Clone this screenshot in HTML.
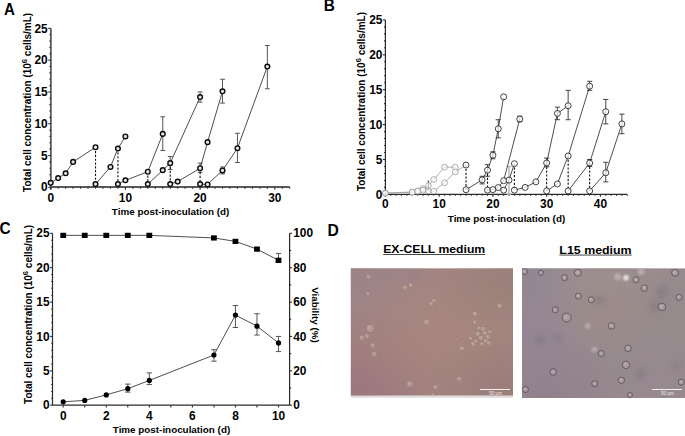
<!DOCTYPE html>
<html><head><meta charset="utf-8"><style>
html,body{margin:0;padding:0;background:#fff;}
svg{display:block;}
text{font-family:"Liberation Sans", sans-serif;fill:#000;}
.tk{font-size:11.9px;font-weight:bold;}
.al{font-size:10px;font-weight:bold;}
.sup{font-size:7.6px;}
.xl{font-size:9.85px;}
.pl{font-size:15.4px;font-weight:bold;}
.dt{font-size:11.6px;font-weight:bold;}
</style></head><body>
<svg width="685" height="436" viewBox="0 0 685 436">
<defs><filter id="bl" x="-50%" y="-50%" width="200%" height="200%"><feGaussianBlur stdDeviation="3"/></filter><filter id="bl0" x="-10%" y="-10%" width="120%" height="120%"><feGaussianBlur stdDeviation="0.35"/></filter><filter id="bl1" x="-50%" y="-50%" width="200%" height="200%"><feGaussianBlur stdDeviation="0.9"/></filter></defs>
<line x1="50.85" y1="28.4" x2="50.85" y2="189.5" stroke="#5a5a5a" stroke-width="1.8"/>
<line x1="48.3" y1="187.3" x2="50.7" y2="187.3" stroke="#2a2a2a" stroke-width="1.1"/>
<text x="47.7" y="191.4" class="tk" text-anchor="end">0</text>
<line x1="49.4" y1="180.94" x2="50.7" y2="180.94" stroke="#2a2a2a" stroke-width="1.1"/>
<line x1="49.4" y1="174.59" x2="50.7" y2="174.59" stroke="#2a2a2a" stroke-width="1.1"/>
<line x1="49.4" y1="168.23" x2="50.7" y2="168.23" stroke="#2a2a2a" stroke-width="1.1"/>
<line x1="49.4" y1="161.88" x2="50.7" y2="161.88" stroke="#2a2a2a" stroke-width="1.1"/>
<line x1="48.3" y1="155.52" x2="50.7" y2="155.52" stroke="#2a2a2a" stroke-width="1.1"/>
<text x="47.7" y="159.62" class="tk" text-anchor="end">5</text>
<line x1="49.4" y1="149.16" x2="50.7" y2="149.16" stroke="#2a2a2a" stroke-width="1.1"/>
<line x1="49.4" y1="142.81" x2="50.7" y2="142.81" stroke="#2a2a2a" stroke-width="1.1"/>
<line x1="49.4" y1="136.45" x2="50.7" y2="136.45" stroke="#2a2a2a" stroke-width="1.1"/>
<line x1="49.4" y1="130.1" x2="50.7" y2="130.1" stroke="#2a2a2a" stroke-width="1.1"/>
<line x1="48.3" y1="123.74" x2="50.7" y2="123.74" stroke="#2a2a2a" stroke-width="1.1"/>
<text x="47.7" y="127.84" class="tk" text-anchor="end">10</text>
<line x1="49.4" y1="117.38" x2="50.7" y2="117.38" stroke="#2a2a2a" stroke-width="1.1"/>
<line x1="49.4" y1="111.03" x2="50.7" y2="111.03" stroke="#2a2a2a" stroke-width="1.1"/>
<line x1="49.4" y1="104.67" x2="50.7" y2="104.67" stroke="#2a2a2a" stroke-width="1.1"/>
<line x1="49.4" y1="98.32" x2="50.7" y2="98.32" stroke="#2a2a2a" stroke-width="1.1"/>
<line x1="48.3" y1="91.96" x2="50.7" y2="91.96" stroke="#2a2a2a" stroke-width="1.1"/>
<text x="47.7" y="96.06" class="tk" text-anchor="end">15</text>
<line x1="49.4" y1="85.6" x2="50.7" y2="85.6" stroke="#2a2a2a" stroke-width="1.1"/>
<line x1="49.4" y1="79.25" x2="50.7" y2="79.25" stroke="#2a2a2a" stroke-width="1.1"/>
<line x1="49.4" y1="72.89" x2="50.7" y2="72.89" stroke="#2a2a2a" stroke-width="1.1"/>
<line x1="49.4" y1="66.54" x2="50.7" y2="66.54" stroke="#2a2a2a" stroke-width="1.1"/>
<line x1="48.3" y1="60.18" x2="50.7" y2="60.18" stroke="#2a2a2a" stroke-width="1.1"/>
<text x="47.7" y="64.28" class="tk" text-anchor="end">20</text>
<line x1="49.4" y1="53.82" x2="50.7" y2="53.82" stroke="#2a2a2a" stroke-width="1.1"/>
<line x1="49.4" y1="47.47" x2="50.7" y2="47.47" stroke="#2a2a2a" stroke-width="1.1"/>
<line x1="49.4" y1="41.11" x2="50.7" y2="41.11" stroke="#2a2a2a" stroke-width="1.1"/>
<line x1="49.4" y1="34.76" x2="50.7" y2="34.76" stroke="#2a2a2a" stroke-width="1.1"/>
<line x1="48.3" y1="28.4" x2="50.7" y2="28.4" stroke="#2a2a2a" stroke-width="1.1"/>
<text x="47.7" y="32.5" class="tk" text-anchor="end">25</text>
<line x1="50.7" y1="187" x2="289.74" y2="187" stroke="#5a5a5a" stroke-width="1.8"/>
<line x1="50.7" y1="187.3" x2="50.7" y2="189.7" stroke="#2a2a2a" stroke-width="1.1"/>
<text x="50.7" y="201.5" class="tk" text-anchor="middle">0</text>
<line x1="58.17" y1="187.3" x2="58.17" y2="188.7" stroke="#2a2a2a" stroke-width="1.1"/>
<line x1="65.64" y1="187.3" x2="65.64" y2="188.7" stroke="#2a2a2a" stroke-width="1.1"/>
<line x1="73.11" y1="187.3" x2="73.11" y2="188.7" stroke="#2a2a2a" stroke-width="1.1"/>
<line x1="80.58" y1="187.3" x2="80.58" y2="188.7" stroke="#2a2a2a" stroke-width="1.1"/>
<line x1="88.05" y1="187.3" x2="88.05" y2="188.7" stroke="#2a2a2a" stroke-width="1.1"/>
<line x1="95.52" y1="187.3" x2="95.52" y2="188.7" stroke="#2a2a2a" stroke-width="1.1"/>
<line x1="102.99" y1="187.3" x2="102.99" y2="188.7" stroke="#2a2a2a" stroke-width="1.1"/>
<line x1="110.46" y1="187.3" x2="110.46" y2="188.7" stroke="#2a2a2a" stroke-width="1.1"/>
<line x1="117.93" y1="187.3" x2="117.93" y2="188.7" stroke="#2a2a2a" stroke-width="1.1"/>
<line x1="125.4" y1="187.3" x2="125.4" y2="189.7" stroke="#2a2a2a" stroke-width="1.1"/>
<text x="125.4" y="201.5" class="tk" text-anchor="middle">10</text>
<line x1="132.87" y1="187.3" x2="132.87" y2="188.7" stroke="#2a2a2a" stroke-width="1.1"/>
<line x1="140.34" y1="187.3" x2="140.34" y2="188.7" stroke="#2a2a2a" stroke-width="1.1"/>
<line x1="147.81" y1="187.3" x2="147.81" y2="188.7" stroke="#2a2a2a" stroke-width="1.1"/>
<line x1="155.28" y1="187.3" x2="155.28" y2="188.7" stroke="#2a2a2a" stroke-width="1.1"/>
<line x1="162.75" y1="187.3" x2="162.75" y2="188.7" stroke="#2a2a2a" stroke-width="1.1"/>
<line x1="170.22" y1="187.3" x2="170.22" y2="188.7" stroke="#2a2a2a" stroke-width="1.1"/>
<line x1="177.69" y1="187.3" x2="177.69" y2="188.7" stroke="#2a2a2a" stroke-width="1.1"/>
<line x1="185.16" y1="187.3" x2="185.16" y2="188.7" stroke="#2a2a2a" stroke-width="1.1"/>
<line x1="192.63" y1="187.3" x2="192.63" y2="188.7" stroke="#2a2a2a" stroke-width="1.1"/>
<line x1="200.1" y1="187.3" x2="200.1" y2="189.7" stroke="#2a2a2a" stroke-width="1.1"/>
<text x="200.1" y="201.5" class="tk" text-anchor="middle">20</text>
<line x1="207.57" y1="187.3" x2="207.57" y2="188.7" stroke="#2a2a2a" stroke-width="1.1"/>
<line x1="215.04" y1="187.3" x2="215.04" y2="188.7" stroke="#2a2a2a" stroke-width="1.1"/>
<line x1="222.51" y1="187.3" x2="222.51" y2="188.7" stroke="#2a2a2a" stroke-width="1.1"/>
<line x1="229.98" y1="187.3" x2="229.98" y2="188.7" stroke="#2a2a2a" stroke-width="1.1"/>
<line x1="237.45" y1="187.3" x2="237.45" y2="188.7" stroke="#2a2a2a" stroke-width="1.1"/>
<line x1="244.92" y1="187.3" x2="244.92" y2="188.7" stroke="#2a2a2a" stroke-width="1.1"/>
<line x1="252.39" y1="187.3" x2="252.39" y2="188.7" stroke="#2a2a2a" stroke-width="1.1"/>
<line x1="259.86" y1="187.3" x2="259.86" y2="188.7" stroke="#2a2a2a" stroke-width="1.1"/>
<line x1="267.33" y1="187.3" x2="267.33" y2="188.7" stroke="#2a2a2a" stroke-width="1.1"/>
<line x1="274.8" y1="187.3" x2="274.8" y2="189.7" stroke="#2a2a2a" stroke-width="1.1"/>
<text x="274.8" y="201.5" class="tk" text-anchor="middle">30</text>
<line x1="282.27" y1="187.3" x2="282.27" y2="188.7" stroke="#2a2a2a" stroke-width="1.1"/>
<line x1="289.74" y1="187.3" x2="289.74" y2="188.7" stroke="#2a2a2a" stroke-width="1.1"/>
<path d="M162.75 150.44V116.75M160.35 150.44H165.15M160.35 116.75H165.15" stroke="#444" stroke-width="0.9" fill="none"/>
<path d="M170.22 169.5V156.47M167.82 169.5H172.62M167.82 156.47H172.62" stroke="#444" stroke-width="0.9" fill="none"/>
<path d="M200.1 102.13V91.96M197.7 102.13H202.5M197.7 91.96H202.5" stroke="#444" stroke-width="0.9" fill="none"/>
<path d="M200.1 172.36V163.15M197.7 172.36H202.5M197.7 163.15H202.5" stroke="#444" stroke-width="0.9" fill="none"/>
<path d="M222.51 103.08V79.25M220.11 103.08H224.91M220.11 79.25H224.91" stroke="#444" stroke-width="0.9" fill="none"/>
<path d="M222.51 173.95V166.96M220.11 173.95H224.91M220.11 166.96H224.91" stroke="#444" stroke-width="0.9" fill="none"/>
<path d="M237.45 162.51V133.27M235.05 162.51H239.85M235.05 133.27H239.85" stroke="#444" stroke-width="0.9" fill="none"/>
<path d="M267.33 88.78V45.56M264.93 88.78H269.73M264.93 45.56H269.73" stroke="#444" stroke-width="0.9" fill="none"/>
<line x1="95.52" y1="147.26" x2="95.52" y2="184.12" stroke="#111" stroke-width="1.1" stroke-dasharray="2.2 1.6"/>
<line x1="117.93" y1="148.53" x2="117.93" y2="184.12" stroke="#111" stroke-width="1.1" stroke-dasharray="2.2 1.6"/>
<line x1="147.81" y1="171.73" x2="147.81" y2="184.12" stroke="#111" stroke-width="1.1" stroke-dasharray="2.2 1.6"/>
<line x1="170.22" y1="163.15" x2="170.22" y2="184.12" stroke="#111" stroke-width="1.1" stroke-dasharray="2.2 1.6"/>
<line x1="200.1" y1="168.23" x2="200.1" y2="184.12" stroke="#111" stroke-width="1.1" stroke-dasharray="2.2 1.6"/>
<polyline points="50.7,182.85 58.17,178.08 65.64,173.32 73.11,161.88 95.52,147.26" fill="none" stroke="#222" stroke-width="0.8"/>
<polyline points="95.52,184.12 110.46,166.96 117.93,148.53 125.4,136.45" fill="none" stroke="#222" stroke-width="0.8"/>
<polyline points="117.93,184.12 125.4,180.31 147.81,171.73 162.75,133.91" fill="none" stroke="#222" stroke-width="0.8"/>
<polyline points="147.81,184.12 162.75,170.14 170.22,163.15 200.1,97.04" fill="none" stroke="#222" stroke-width="0.8"/>
<polyline points="170.22,184.12 177.69,181.58 200.1,168.23 207.57,142.17 222.51,91.32" fill="none" stroke="#222" stroke-width="0.8"/>
<polyline points="200.1,184.12 207.57,184.44 222.51,170.46 237.45,148.21 267.33,66.54" fill="none" stroke="#222" stroke-width="0.8"/>
<circle cx="50.7" cy="182.85" r="2.35" fill="#e4e4e4" stroke="#0a0a0a" stroke-width="1.4"/>
<circle cx="58.17" cy="178.08" r="2.35" fill="#e4e4e4" stroke="#0a0a0a" stroke-width="1.4"/>
<circle cx="65.64" cy="173.32" r="2.35" fill="#e4e4e4" stroke="#0a0a0a" stroke-width="1.4"/>
<circle cx="73.11" cy="161.88" r="2.35" fill="#e4e4e4" stroke="#0a0a0a" stroke-width="1.4"/>
<circle cx="95.52" cy="147.26" r="2.35" fill="#e4e4e4" stroke="#0a0a0a" stroke-width="1.4"/>
<circle cx="95.52" cy="184.12" r="2.35" fill="#e4e4e4" stroke="#0a0a0a" stroke-width="1.4"/>
<circle cx="110.46" cy="166.96" r="2.35" fill="#e4e4e4" stroke="#0a0a0a" stroke-width="1.4"/>
<circle cx="117.93" cy="148.53" r="2.35" fill="#e4e4e4" stroke="#0a0a0a" stroke-width="1.4"/>
<circle cx="125.4" cy="136.45" r="2.35" fill="#e4e4e4" stroke="#0a0a0a" stroke-width="1.4"/>
<circle cx="117.93" cy="184.12" r="2.35" fill="#e4e4e4" stroke="#0a0a0a" stroke-width="1.4"/>
<circle cx="125.4" cy="180.31" r="2.35" fill="#e4e4e4" stroke="#0a0a0a" stroke-width="1.4"/>
<circle cx="147.81" cy="171.73" r="2.35" fill="#e4e4e4" stroke="#0a0a0a" stroke-width="1.4"/>
<circle cx="162.75" cy="133.91" r="2.35" fill="#e4e4e4" stroke="#0a0a0a" stroke-width="1.4"/>
<circle cx="147.81" cy="184.12" r="2.35" fill="#e4e4e4" stroke="#0a0a0a" stroke-width="1.4"/>
<circle cx="162.75" cy="170.14" r="2.35" fill="#e4e4e4" stroke="#0a0a0a" stroke-width="1.4"/>
<circle cx="170.22" cy="163.15" r="2.35" fill="#e4e4e4" stroke="#0a0a0a" stroke-width="1.4"/>
<circle cx="200.1" cy="97.04" r="2.35" fill="#e4e4e4" stroke="#0a0a0a" stroke-width="1.4"/>
<circle cx="170.22" cy="184.12" r="2.35" fill="#e4e4e4" stroke="#0a0a0a" stroke-width="1.4"/>
<circle cx="177.69" cy="181.58" r="2.35" fill="#e4e4e4" stroke="#0a0a0a" stroke-width="1.4"/>
<circle cx="200.1" cy="168.23" r="2.35" fill="#e4e4e4" stroke="#0a0a0a" stroke-width="1.4"/>
<circle cx="207.57" cy="142.17" r="2.35" fill="#e4e4e4" stroke="#0a0a0a" stroke-width="1.4"/>
<circle cx="222.51" cy="91.32" r="2.35" fill="#e4e4e4" stroke="#0a0a0a" stroke-width="1.4"/>
<circle cx="200.1" cy="184.12" r="2.35" fill="#e4e4e4" stroke="#0a0a0a" stroke-width="1.4"/>
<circle cx="207.57" cy="184.44" r="2.35" fill="#e4e4e4" stroke="#0a0a0a" stroke-width="1.4"/>
<circle cx="222.51" cy="170.46" r="2.35" fill="#e4e4e4" stroke="#0a0a0a" stroke-width="1.4"/>
<circle cx="237.45" cy="148.21" r="2.35" fill="#e4e4e4" stroke="#0a0a0a" stroke-width="1.4"/>
<circle cx="267.33" cy="66.54" r="2.35" fill="#e4e4e4" stroke="#0a0a0a" stroke-width="1.4"/>
<text transform="translate(4,14.8) scale(0.98,1.1)" class="pl">A</text>
<text transform="translate(30.5,102.35) rotate(-90)" class="al" text-anchor="middle">Total cell concentration (10<tspan class="sup" dy="-3.9">6</tspan><tspan dy="3.9"> cells/mL)</tspan></text>
<text x="170.55" y="214.6" class="al xl" text-anchor="middle">Time post-inoculation (d)</text>
<line x1="385.4" y1="19.9" x2="385.4" y2="196.6" stroke="#2a2a2a" stroke-width="1.2"/>
<line x1="383" y1="194.4" x2="385.4" y2="194.4" stroke="#2a2a2a" stroke-width="1.1"/>
<text x="382.4" y="198.5" class="tk" text-anchor="end">0</text>
<line x1="384.1" y1="187.42" x2="385.4" y2="187.42" stroke="#2a2a2a" stroke-width="1.1"/>
<line x1="384.1" y1="180.44" x2="385.4" y2="180.44" stroke="#2a2a2a" stroke-width="1.1"/>
<line x1="384.1" y1="173.46" x2="385.4" y2="173.46" stroke="#2a2a2a" stroke-width="1.1"/>
<line x1="384.1" y1="166.48" x2="385.4" y2="166.48" stroke="#2a2a2a" stroke-width="1.1"/>
<line x1="383" y1="159.5" x2="385.4" y2="159.5" stroke="#2a2a2a" stroke-width="1.1"/>
<text x="382.4" y="163.6" class="tk" text-anchor="end">5</text>
<line x1="384.1" y1="152.52" x2="385.4" y2="152.52" stroke="#2a2a2a" stroke-width="1.1"/>
<line x1="384.1" y1="145.54" x2="385.4" y2="145.54" stroke="#2a2a2a" stroke-width="1.1"/>
<line x1="384.1" y1="138.56" x2="385.4" y2="138.56" stroke="#2a2a2a" stroke-width="1.1"/>
<line x1="384.1" y1="131.58" x2="385.4" y2="131.58" stroke="#2a2a2a" stroke-width="1.1"/>
<line x1="383" y1="124.6" x2="385.4" y2="124.6" stroke="#2a2a2a" stroke-width="1.1"/>
<text x="382.4" y="128.7" class="tk" text-anchor="end">10</text>
<line x1="384.1" y1="117.62" x2="385.4" y2="117.62" stroke="#2a2a2a" stroke-width="1.1"/>
<line x1="384.1" y1="110.64" x2="385.4" y2="110.64" stroke="#2a2a2a" stroke-width="1.1"/>
<line x1="384.1" y1="103.66" x2="385.4" y2="103.66" stroke="#2a2a2a" stroke-width="1.1"/>
<line x1="384.1" y1="96.68" x2="385.4" y2="96.68" stroke="#2a2a2a" stroke-width="1.1"/>
<line x1="383" y1="89.7" x2="385.4" y2="89.7" stroke="#2a2a2a" stroke-width="1.1"/>
<text x="382.4" y="93.8" class="tk" text-anchor="end">15</text>
<line x1="384.1" y1="82.72" x2="385.4" y2="82.72" stroke="#2a2a2a" stroke-width="1.1"/>
<line x1="384.1" y1="75.74" x2="385.4" y2="75.74" stroke="#2a2a2a" stroke-width="1.1"/>
<line x1="384.1" y1="68.76" x2="385.4" y2="68.76" stroke="#2a2a2a" stroke-width="1.1"/>
<line x1="384.1" y1="61.78" x2="385.4" y2="61.78" stroke="#2a2a2a" stroke-width="1.1"/>
<line x1="383" y1="54.8" x2="385.4" y2="54.8" stroke="#2a2a2a" stroke-width="1.1"/>
<text x="382.4" y="58.9" class="tk" text-anchor="end">20</text>
<line x1="384.1" y1="47.82" x2="385.4" y2="47.82" stroke="#2a2a2a" stroke-width="1.1"/>
<line x1="384.1" y1="40.84" x2="385.4" y2="40.84" stroke="#2a2a2a" stroke-width="1.1"/>
<line x1="384.1" y1="33.86" x2="385.4" y2="33.86" stroke="#2a2a2a" stroke-width="1.1"/>
<line x1="384.1" y1="26.88" x2="385.4" y2="26.88" stroke="#2a2a2a" stroke-width="1.1"/>
<line x1="383" y1="19.9" x2="385.4" y2="19.9" stroke="#2a2a2a" stroke-width="1.1"/>
<text x="382.4" y="24" class="tk" text-anchor="end">25</text>
<line x1="385.4" y1="194.4" x2="627.27" y2="194.4" stroke="#2a2a2a" stroke-width="1.2"/>
<line x1="385.4" y1="194.4" x2="385.4" y2="196.8" stroke="#2a2a2a" stroke-width="1.1"/>
<text x="385.4" y="207.9" class="tk" text-anchor="middle">0</text>
<line x1="390.77" y1="194.4" x2="390.77" y2="195.8" stroke="#2a2a2a" stroke-width="1.1"/>
<line x1="396.15" y1="194.4" x2="396.15" y2="195.8" stroke="#2a2a2a" stroke-width="1.1"/>
<line x1="401.52" y1="194.4" x2="401.52" y2="195.8" stroke="#2a2a2a" stroke-width="1.1"/>
<line x1="406.9" y1="194.4" x2="406.9" y2="195.8" stroke="#2a2a2a" stroke-width="1.1"/>
<line x1="412.27" y1="194.4" x2="412.27" y2="195.8" stroke="#2a2a2a" stroke-width="1.1"/>
<line x1="417.65" y1="194.4" x2="417.65" y2="195.8" stroke="#2a2a2a" stroke-width="1.1"/>
<line x1="423.02" y1="194.4" x2="423.02" y2="195.8" stroke="#2a2a2a" stroke-width="1.1"/>
<line x1="428.4" y1="194.4" x2="428.4" y2="195.8" stroke="#2a2a2a" stroke-width="1.1"/>
<line x1="433.77" y1="194.4" x2="433.77" y2="195.8" stroke="#2a2a2a" stroke-width="1.1"/>
<line x1="439.15" y1="194.4" x2="439.15" y2="196.8" stroke="#2a2a2a" stroke-width="1.1"/>
<text x="439.15" y="207.9" class="tk" text-anchor="middle">10</text>
<line x1="444.52" y1="194.4" x2="444.52" y2="195.8" stroke="#2a2a2a" stroke-width="1.1"/>
<line x1="449.9" y1="194.4" x2="449.9" y2="195.8" stroke="#2a2a2a" stroke-width="1.1"/>
<line x1="455.27" y1="194.4" x2="455.27" y2="195.8" stroke="#2a2a2a" stroke-width="1.1"/>
<line x1="460.65" y1="194.4" x2="460.65" y2="195.8" stroke="#2a2a2a" stroke-width="1.1"/>
<line x1="466.02" y1="194.4" x2="466.02" y2="195.8" stroke="#2a2a2a" stroke-width="1.1"/>
<line x1="471.4" y1="194.4" x2="471.4" y2="195.8" stroke="#2a2a2a" stroke-width="1.1"/>
<line x1="476.77" y1="194.4" x2="476.77" y2="195.8" stroke="#2a2a2a" stroke-width="1.1"/>
<line x1="482.15" y1="194.4" x2="482.15" y2="195.8" stroke="#2a2a2a" stroke-width="1.1"/>
<line x1="487.52" y1="194.4" x2="487.52" y2="195.8" stroke="#2a2a2a" stroke-width="1.1"/>
<line x1="492.9" y1="194.4" x2="492.9" y2="196.8" stroke="#2a2a2a" stroke-width="1.1"/>
<text x="492.9" y="207.9" class="tk" text-anchor="middle">20</text>
<line x1="498.27" y1="194.4" x2="498.27" y2="195.8" stroke="#2a2a2a" stroke-width="1.1"/>
<line x1="503.65" y1="194.4" x2="503.65" y2="195.8" stroke="#2a2a2a" stroke-width="1.1"/>
<line x1="509.02" y1="194.4" x2="509.02" y2="195.8" stroke="#2a2a2a" stroke-width="1.1"/>
<line x1="514.4" y1="194.4" x2="514.4" y2="195.8" stroke="#2a2a2a" stroke-width="1.1"/>
<line x1="519.77" y1="194.4" x2="519.77" y2="195.8" stroke="#2a2a2a" stroke-width="1.1"/>
<line x1="525.15" y1="194.4" x2="525.15" y2="195.8" stroke="#2a2a2a" stroke-width="1.1"/>
<line x1="530.52" y1="194.4" x2="530.52" y2="195.8" stroke="#2a2a2a" stroke-width="1.1"/>
<line x1="535.9" y1="194.4" x2="535.9" y2="195.8" stroke="#2a2a2a" stroke-width="1.1"/>
<line x1="541.27" y1="194.4" x2="541.27" y2="195.8" stroke="#2a2a2a" stroke-width="1.1"/>
<line x1="546.65" y1="194.4" x2="546.65" y2="196.8" stroke="#2a2a2a" stroke-width="1.1"/>
<text x="546.65" y="207.9" class="tk" text-anchor="middle">30</text>
<line x1="552.02" y1="194.4" x2="552.02" y2="195.8" stroke="#2a2a2a" stroke-width="1.1"/>
<line x1="557.4" y1="194.4" x2="557.4" y2="195.8" stroke="#2a2a2a" stroke-width="1.1"/>
<line x1="562.77" y1="194.4" x2="562.77" y2="195.8" stroke="#2a2a2a" stroke-width="1.1"/>
<line x1="568.15" y1="194.4" x2="568.15" y2="195.8" stroke="#2a2a2a" stroke-width="1.1"/>
<line x1="573.52" y1="194.4" x2="573.52" y2="195.8" stroke="#2a2a2a" stroke-width="1.1"/>
<line x1="578.9" y1="194.4" x2="578.9" y2="195.8" stroke="#2a2a2a" stroke-width="1.1"/>
<line x1="584.27" y1="194.4" x2="584.27" y2="195.8" stroke="#2a2a2a" stroke-width="1.1"/>
<line x1="589.65" y1="194.4" x2="589.65" y2="195.8" stroke="#2a2a2a" stroke-width="1.1"/>
<line x1="595.02" y1="194.4" x2="595.02" y2="195.8" stroke="#2a2a2a" stroke-width="1.1"/>
<line x1="600.4" y1="194.4" x2="600.4" y2="196.8" stroke="#2a2a2a" stroke-width="1.1"/>
<text x="600.4" y="207.9" class="tk" text-anchor="middle">40</text>
<line x1="605.77" y1="194.4" x2="605.77" y2="195.8" stroke="#2a2a2a" stroke-width="1.1"/>
<line x1="611.15" y1="194.4" x2="611.15" y2="195.8" stroke="#2a2a2a" stroke-width="1.1"/>
<line x1="616.52" y1="194.4" x2="616.52" y2="195.8" stroke="#2a2a2a" stroke-width="1.1"/>
<line x1="621.9" y1="194.4" x2="621.9" y2="195.8" stroke="#2a2a2a" stroke-width="1.1"/>
<line x1="627.27" y1="194.4" x2="627.27" y2="195.8" stroke="#2a2a2a" stroke-width="1.1"/>
<polyline points="385.4,193 412.27,192.03 417.65,190.84 423.02,188.75 428.4,185.54 433.77,179.53 444.52,167.18 455.27,167.18" fill="none" stroke="#9a9a9a" stroke-width="0.8"/>
<polyline points="385.4,193.35 412.27,192.31 417.65,191.26 423.02,190.21 428.4,190.91 433.77,191.12 444.52,182.81 455.27,171.92 466.02,165.08" fill="none" stroke="#9a9a9a" stroke-width="0.8"/>
<path d="M428.4 189.51V181.14M427.6 189.51H429.2M427.6 181.14H429.2" stroke="#333" stroke-width="0.9" fill="none"/>
<circle cx="385.4" cy="193" r="2.9" fill="#fff" fill-opacity="0.6" stroke="#9a9a9a" stroke-width="0.8"/>
<circle cx="412.27" cy="192.03" r="2.9" fill="#fff" fill-opacity="0.6" stroke="#9a9a9a" stroke-width="0.8"/>
<circle cx="417.65" cy="190.84" r="2.9" fill="#fff" fill-opacity="0.6" stroke="#9a9a9a" stroke-width="0.8"/>
<circle cx="423.02" cy="188.75" r="2.9" fill="#fff" fill-opacity="0.6" stroke="#9a9a9a" stroke-width="0.8"/>
<circle cx="428.4" cy="185.54" r="2.9" fill="#fff" fill-opacity="0.6" stroke="#9a9a9a" stroke-width="0.8"/>
<circle cx="433.77" cy="179.53" r="2.9" fill="#fff" fill-opacity="0.6" stroke="#9a9a9a" stroke-width="0.8"/>
<circle cx="444.52" cy="167.18" r="2.9" fill="#fff" fill-opacity="0.6" stroke="#9a9a9a" stroke-width="0.8"/>
<circle cx="455.27" cy="167.18" r="2.9" fill="#fff" fill-opacity="0.6" stroke="#9a9a9a" stroke-width="0.8"/>
<circle cx="385.4" cy="193.35" r="2.9" fill="#fff" fill-opacity="0.6" stroke="#9a9a9a" stroke-width="0.8"/>
<circle cx="412.27" cy="192.31" r="2.9" fill="#fff" fill-opacity="0.6" stroke="#9a9a9a" stroke-width="0.8"/>
<circle cx="417.65" cy="191.26" r="2.9" fill="#fff" fill-opacity="0.6" stroke="#9a9a9a" stroke-width="0.8"/>
<circle cx="423.02" cy="190.21" r="2.9" fill="#fff" fill-opacity="0.6" stroke="#9a9a9a" stroke-width="0.8"/>
<circle cx="428.4" cy="190.91" r="2.9" fill="#fff" fill-opacity="0.6" stroke="#9a9a9a" stroke-width="0.8"/>
<circle cx="433.77" cy="191.12" r="2.9" fill="#fff" fill-opacity="0.6" stroke="#9a9a9a" stroke-width="0.8"/>
<circle cx="444.52" cy="182.81" r="2.9" fill="#fff" fill-opacity="0.6" stroke="#9a9a9a" stroke-width="0.8"/>
<circle cx="455.27" cy="171.92" r="2.9" fill="#fff" fill-opacity="0.6" stroke="#9a9a9a" stroke-width="0.8"/>
<path d="M509.02 194.4V166.48M506.82 194.4H511.22M506.82 166.48H511.22" stroke="#aaa" stroke-width="1.2" fill="none"/>
<path d="M482.15 183.93V176.25M479.55 183.93H484.75M479.55 176.25H484.75" stroke="#333" stroke-width="0.9" fill="none"/>
<path d="M487.52 176.25V164.67M484.92 176.25H490.12M484.92 164.67H490.12" stroke="#333" stroke-width="0.9" fill="none"/>
<path d="M498.27 137.86V119.71M495.67 137.86H500.88M495.67 119.71H500.88" stroke="#333" stroke-width="0.9" fill="none"/>
<path d="M519.77 121.81V116.22M517.17 121.81H522.38M517.17 116.22H522.38" stroke="#333" stroke-width="0.9" fill="none"/>
<path d="M546.65 166.83V158.1M544.05 166.83H549.25M544.05 158.1H549.25" stroke="#333" stroke-width="0.9" fill="none"/>
<path d="M557.4 119.71V107.15M554.8 119.71H560M554.8 107.15H560" stroke="#333" stroke-width="0.9" fill="none"/>
<path d="M568.15 119.71V90.4M565.55 119.71H570.75M565.55 90.4H570.75" stroke="#333" stroke-width="0.9" fill="none"/>
<path d="M589.65 90.4V81.32M587.05 90.4H592.25M587.05 81.32H592.25" stroke="#333" stroke-width="0.9" fill="none"/>
<path d="M605.77 123.9V99.47M603.17 123.9H608.38M603.17 99.47H608.38" stroke="#333" stroke-width="0.9" fill="none"/>
<path d="M605.77 181.84V162.29M603.17 181.84H608.38M603.17 162.29H608.38" stroke="#333" stroke-width="0.9" fill="none"/>
<path d="M621.9 133.67V114.13M619.3 133.67H624.5M619.3 114.13H624.5" stroke="#333" stroke-width="0.9" fill="none"/>
<path d="M589.65 166.48V159.5M587.05 166.48H592.25M587.05 159.5H592.25" stroke="#333" stroke-width="0.9" fill="none"/>
<path d="M492.9 158.8V151.82M490.3 158.8H495.5M490.3 151.82H495.5" stroke="#333" stroke-width="0.9" fill="none"/>
<line x1="466.02" y1="165.08" x2="466.02" y2="189.72" stroke="#111" stroke-width="1.1" stroke-dasharray="2.2 1.6"/>
<line x1="487.52" y1="170.18" x2="487.52" y2="190.14" stroke="#111" stroke-width="1.1" stroke-dasharray="2.2 1.6"/>
<line x1="514.4" y1="163.69" x2="514.4" y2="190.14" stroke="#111" stroke-width="1.1" stroke-dasharray="2.2 1.6"/>
<line x1="546.65" y1="162.99" x2="546.65" y2="190.91" stroke="#111" stroke-width="1.1" stroke-dasharray="2.2 1.6"/>
<line x1="568.15" y1="156.01" x2="568.15" y2="190.91" stroke="#111" stroke-width="1.1" stroke-dasharray="2.2 1.6"/>
<line x1="589.65" y1="162.99" x2="589.65" y2="190.91" stroke="#111" stroke-width="1.1" stroke-dasharray="2.2 1.6"/>
<polyline points="466.02,189.72 482.15,179.88 487.52,170.18 492.9,155.17 498.27,128.79 503.65,96.82" fill="none" stroke="#222" stroke-width="0.8"/>
<polyline points="487.52,190.14 492.9,189.65 498.27,187.56 503.65,180.65 519.77,119.02" fill="none" stroke="#222" stroke-width="0.8"/>
<polyline points="503.65,190.14 509.02,180.09 514.4,163.69" fill="none" stroke="#222" stroke-width="0.8"/>
<polyline points="514.4,190.14 525.15,187.42 535.9,181.84 546.65,162.99 557.4,113.43 568.15,105.75" fill="none" stroke="#222" stroke-width="0.8"/>
<polyline points="546.65,190.91 557.4,183.93 568.15,156.01 589.65,86.21" fill="none" stroke="#222" stroke-width="0.8"/>
<polyline points="568.15,190.91 589.65,162.99 605.77,111.69" fill="none" stroke="#222" stroke-width="0.8"/>
<polyline points="589.65,190.91 605.77,172.76 621.9,123.9" fill="none" stroke="#222" stroke-width="0.8"/>
<circle cx="466.02" cy="189.72" r="3.0" fill="#fff" fill-opacity="0.75" stroke="#222" stroke-width="0.85"/>
<circle cx="482.15" cy="179.88" r="3.0" fill="#fff" fill-opacity="0.75" stroke="#222" stroke-width="0.85"/>
<circle cx="487.52" cy="170.18" r="3.0" fill="#fff" fill-opacity="0.75" stroke="#222" stroke-width="0.85"/>
<circle cx="492.9" cy="155.17" r="3.0" fill="#fff" fill-opacity="0.75" stroke="#222" stroke-width="0.85"/>
<circle cx="498.27" cy="128.79" r="3.0" fill="#fff" fill-opacity="0.75" stroke="#222" stroke-width="0.85"/>
<circle cx="503.65" cy="96.82" r="3.0" fill="#fff" fill-opacity="0.75" stroke="#222" stroke-width="0.85"/>
<circle cx="487.52" cy="190.14" r="3.0" fill="#fff" fill-opacity="0.75" stroke="#222" stroke-width="0.85"/>
<circle cx="492.9" cy="189.65" r="3.0" fill="#fff" fill-opacity="0.75" stroke="#222" stroke-width="0.85"/>
<circle cx="498.27" cy="187.56" r="3.0" fill="#fff" fill-opacity="0.75" stroke="#222" stroke-width="0.85"/>
<circle cx="503.65" cy="180.65" r="3.0" fill="#fff" fill-opacity="0.75" stroke="#222" stroke-width="0.85"/>
<circle cx="519.77" cy="119.02" r="3.0" fill="#fff" fill-opacity="0.75" stroke="#222" stroke-width="0.85"/>
<circle cx="503.65" cy="190.14" r="3.0" fill="#fff" fill-opacity="0.75" stroke="#222" stroke-width="0.85"/>
<circle cx="509.02" cy="180.09" r="3.0" fill="#fff" fill-opacity="0.75" stroke="#222" stroke-width="0.85"/>
<circle cx="514.4" cy="163.69" r="3.0" fill="#fff" fill-opacity="0.75" stroke="#222" stroke-width="0.85"/>
<circle cx="514.4" cy="190.14" r="3.0" fill="#fff" fill-opacity="0.75" stroke="#222" stroke-width="0.85"/>
<circle cx="525.15" cy="187.42" r="3.0" fill="#fff" fill-opacity="0.75" stroke="#222" stroke-width="0.85"/>
<circle cx="535.9" cy="181.84" r="3.0" fill="#fff" fill-opacity="0.75" stroke="#222" stroke-width="0.85"/>
<circle cx="546.65" cy="162.99" r="3.0" fill="#fff" fill-opacity="0.75" stroke="#222" stroke-width="0.85"/>
<circle cx="557.4" cy="113.43" r="3.0" fill="#fff" fill-opacity="0.75" stroke="#222" stroke-width="0.85"/>
<circle cx="568.15" cy="105.75" r="3.0" fill="#fff" fill-opacity="0.75" stroke="#222" stroke-width="0.85"/>
<circle cx="546.65" cy="190.91" r="3.0" fill="#fff" fill-opacity="0.75" stroke="#222" stroke-width="0.85"/>
<circle cx="557.4" cy="183.93" r="3.0" fill="#fff" fill-opacity="0.75" stroke="#222" stroke-width="0.85"/>
<circle cx="568.15" cy="156.01" r="3.0" fill="#fff" fill-opacity="0.75" stroke="#222" stroke-width="0.85"/>
<circle cx="589.65" cy="86.21" r="3.0" fill="#fff" fill-opacity="0.75" stroke="#222" stroke-width="0.85"/>
<circle cx="568.15" cy="190.91" r="3.0" fill="#fff" fill-opacity="0.75" stroke="#222" stroke-width="0.85"/>
<circle cx="589.65" cy="162.99" r="3.0" fill="#fff" fill-opacity="0.75" stroke="#222" stroke-width="0.85"/>
<circle cx="605.77" cy="111.69" r="3.0" fill="#fff" fill-opacity="0.75" stroke="#222" stroke-width="0.85"/>
<circle cx="589.65" cy="190.91" r="3.0" fill="#fff" fill-opacity="0.75" stroke="#222" stroke-width="0.85"/>
<circle cx="605.77" cy="172.76" r="3.0" fill="#fff" fill-opacity="0.75" stroke="#222" stroke-width="0.85"/>
<circle cx="621.9" cy="123.9" r="3.0" fill="#fff" fill-opacity="0.75" stroke="#222" stroke-width="0.85"/>
<circle cx="466.02" cy="165.08" r="3.0" fill="#fff" fill-opacity="0.75" stroke="#222" stroke-width="0.85"/>
<text transform="translate(323.8,11.1) scale(1,1.08)" class="pl">B</text>
<text transform="translate(365.3,101.5) rotate(-90)" class="al" text-anchor="middle">Total cell concentration (10<tspan class="sup" dy="-3.9">6</tspan><tspan dy="3.9"> cells/mL)</tspan></text>
<text x="506.5" y="221.6" class="al xl" text-anchor="middle">Time post-inoculation (d)</text>
<line x1="52.5" y1="233.3" x2="52.5" y2="405.2" stroke="#2a2a2a" stroke-width="1.2"/>
<line x1="289.6" y1="233.3" x2="289.6" y2="405.2" stroke="#2a2a2a" stroke-width="1.2"/>
<line x1="52.5" y1="405.2" x2="289.6" y2="405.2" stroke="#2a2a2a" stroke-width="1.2"/>
<line x1="50.1" y1="405.2" x2="52.5" y2="405.2" stroke="#2a2a2a" stroke-width="1.1"/>
<text x="49.5" y="409.3" class="tk" text-anchor="end">0</text>
<line x1="51.2" y1="398.32" x2="52.5" y2="398.32" stroke="#2a2a2a" stroke-width="1.1"/>
<line x1="51.2" y1="391.45" x2="52.5" y2="391.45" stroke="#2a2a2a" stroke-width="1.1"/>
<line x1="51.2" y1="384.57" x2="52.5" y2="384.57" stroke="#2a2a2a" stroke-width="1.1"/>
<line x1="51.2" y1="377.7" x2="52.5" y2="377.7" stroke="#2a2a2a" stroke-width="1.1"/>
<line x1="50.1" y1="370.82" x2="52.5" y2="370.82" stroke="#2a2a2a" stroke-width="1.1"/>
<text x="49.5" y="374.92" class="tk" text-anchor="end">5</text>
<line x1="51.2" y1="363.94" x2="52.5" y2="363.94" stroke="#2a2a2a" stroke-width="1.1"/>
<line x1="51.2" y1="357.07" x2="52.5" y2="357.07" stroke="#2a2a2a" stroke-width="1.1"/>
<line x1="51.2" y1="350.19" x2="52.5" y2="350.19" stroke="#2a2a2a" stroke-width="1.1"/>
<line x1="51.2" y1="343.32" x2="52.5" y2="343.32" stroke="#2a2a2a" stroke-width="1.1"/>
<line x1="50.1" y1="336.44" x2="52.5" y2="336.44" stroke="#2a2a2a" stroke-width="1.1"/>
<text x="49.5" y="340.54" class="tk" text-anchor="end">10</text>
<line x1="51.2" y1="329.56" x2="52.5" y2="329.56" stroke="#2a2a2a" stroke-width="1.1"/>
<line x1="51.2" y1="322.69" x2="52.5" y2="322.69" stroke="#2a2a2a" stroke-width="1.1"/>
<line x1="51.2" y1="315.81" x2="52.5" y2="315.81" stroke="#2a2a2a" stroke-width="1.1"/>
<line x1="51.2" y1="308.94" x2="52.5" y2="308.94" stroke="#2a2a2a" stroke-width="1.1"/>
<line x1="50.1" y1="302.06" x2="52.5" y2="302.06" stroke="#2a2a2a" stroke-width="1.1"/>
<text x="49.5" y="306.16" class="tk" text-anchor="end">15</text>
<line x1="51.2" y1="295.18" x2="52.5" y2="295.18" stroke="#2a2a2a" stroke-width="1.1"/>
<line x1="51.2" y1="288.31" x2="52.5" y2="288.31" stroke="#2a2a2a" stroke-width="1.1"/>
<line x1="51.2" y1="281.43" x2="52.5" y2="281.43" stroke="#2a2a2a" stroke-width="1.1"/>
<line x1="51.2" y1="274.56" x2="52.5" y2="274.56" stroke="#2a2a2a" stroke-width="1.1"/>
<line x1="50.1" y1="267.68" x2="52.5" y2="267.68" stroke="#2a2a2a" stroke-width="1.1"/>
<text x="49.5" y="271.78" class="tk" text-anchor="end">20</text>
<line x1="51.2" y1="260.8" x2="52.5" y2="260.8" stroke="#2a2a2a" stroke-width="1.1"/>
<line x1="51.2" y1="253.93" x2="52.5" y2="253.93" stroke="#2a2a2a" stroke-width="1.1"/>
<line x1="51.2" y1="247.05" x2="52.5" y2="247.05" stroke="#2a2a2a" stroke-width="1.1"/>
<line x1="51.2" y1="240.18" x2="52.5" y2="240.18" stroke="#2a2a2a" stroke-width="1.1"/>
<line x1="50.1" y1="233.3" x2="52.5" y2="233.3" stroke="#2a2a2a" stroke-width="1.1"/>
<text x="49.5" y="237.4" class="tk" text-anchor="end">25</text>
<line x1="289.6" y1="405.2" x2="292" y2="405.2" stroke="#2a2a2a" stroke-width="1.1"/>
<text x="293.2" y="409.3" class="tk">0</text>
<line x1="289.6" y1="388.01" x2="291.2" y2="388.01" stroke="#2a2a2a" stroke-width="1.1"/>
<line x1="289.6" y1="370.82" x2="292" y2="370.82" stroke="#2a2a2a" stroke-width="1.1"/>
<text x="293.2" y="374.92" class="tk">20</text>
<line x1="289.6" y1="353.63" x2="291.2" y2="353.63" stroke="#2a2a2a" stroke-width="1.1"/>
<line x1="289.6" y1="336.44" x2="292" y2="336.44" stroke="#2a2a2a" stroke-width="1.1"/>
<text x="293.2" y="340.54" class="tk">40</text>
<line x1="289.6" y1="319.25" x2="291.2" y2="319.25" stroke="#2a2a2a" stroke-width="1.1"/>
<line x1="289.6" y1="302.06" x2="292" y2="302.06" stroke="#2a2a2a" stroke-width="1.1"/>
<text x="293.2" y="306.16" class="tk">60</text>
<line x1="289.6" y1="284.87" x2="291.2" y2="284.87" stroke="#2a2a2a" stroke-width="1.1"/>
<line x1="289.6" y1="267.68" x2="292" y2="267.68" stroke="#2a2a2a" stroke-width="1.1"/>
<text x="293.2" y="271.78" class="tk">80</text>
<line x1="289.6" y1="250.49" x2="291.2" y2="250.49" stroke="#2a2a2a" stroke-width="1.1"/>
<line x1="289.6" y1="233.3" x2="292" y2="233.3" stroke="#2a2a2a" stroke-width="1.1"/>
<text x="293.2" y="237.4" class="tk">100</text>
<line x1="63.2" y1="405.2" x2="63.2" y2="407.4" stroke="#2a2a2a" stroke-width="1.1"/>
<text x="63.2" y="419.7" class="tk" text-anchor="middle">0</text>
<line x1="84.73" y1="405.2" x2="84.73" y2="407.4" stroke="#2a2a2a" stroke-width="1.1"/>
<line x1="106.26" y1="405.2" x2="106.26" y2="407.4" stroke="#2a2a2a" stroke-width="1.1"/>
<text x="106.26" y="419.7" class="tk" text-anchor="middle">2</text>
<line x1="127.79" y1="405.2" x2="127.79" y2="407.4" stroke="#2a2a2a" stroke-width="1.1"/>
<line x1="149.32" y1="405.2" x2="149.32" y2="407.4" stroke="#2a2a2a" stroke-width="1.1"/>
<text x="149.32" y="419.7" class="tk" text-anchor="middle">4</text>
<line x1="170.85" y1="405.2" x2="170.85" y2="407.4" stroke="#2a2a2a" stroke-width="1.1"/>
<line x1="192.38" y1="405.2" x2="192.38" y2="407.4" stroke="#2a2a2a" stroke-width="1.1"/>
<text x="192.38" y="419.7" class="tk" text-anchor="middle">6</text>
<line x1="213.91" y1="405.2" x2="213.91" y2="407.4" stroke="#2a2a2a" stroke-width="1.1"/>
<line x1="235.44" y1="405.2" x2="235.44" y2="407.4" stroke="#2a2a2a" stroke-width="1.1"/>
<text x="235.44" y="419.7" class="tk" text-anchor="middle">8</text>
<line x1="256.97" y1="405.2" x2="256.97" y2="407.4" stroke="#2a2a2a" stroke-width="1.1"/>
<line x1="278.5" y1="405.2" x2="278.5" y2="407.4" stroke="#2a2a2a" stroke-width="1.1"/>
<text x="278.5" y="419.7" class="tk" text-anchor="middle">10</text>
<path d="M127.79 392.14V384.09M125.09 392.14H130.49M125.09 384.09H130.49" stroke="#444" stroke-width="0.9" fill="none"/>
<path d="M149.32 384.57V372.88M146.62 384.57H152.02M146.62 372.88H152.02" stroke="#444" stroke-width="0.9" fill="none"/>
<path d="M213.91 361.19V349.71M211.21 361.19H216.61M211.21 349.71H216.61" stroke="#444" stroke-width="0.9" fill="none"/>
<path d="M235.44 327.5V305.5M232.74 327.5H238.14M232.74 305.5H238.14" stroke="#444" stroke-width="0.9" fill="none"/>
<path d="M256.97 335.06V313.75M254.27 335.06H259.67M254.27 313.75H259.67" stroke="#444" stroke-width="0.9" fill="none"/>
<path d="M278.5 351.57V336.44M275.8 351.57H281.2M275.8 336.44H281.2" stroke="#444" stroke-width="0.9" fill="none"/>
<path d="M278.5 262.52V253.41M275.8 262.52H281.2M275.8 253.41H281.2" stroke="#444" stroke-width="0.9" fill="none"/>
<polyline points="63.2,401.83 84.73,400.39 106.26,394.89 127.79,388.7 149.32,380.45 213.91,355.01 235.44,315.12 256.97,326.13 278.5,342.97" fill="none" stroke="#222" stroke-width="0.8"/>
<polyline points="63.2,235.36 84.73,235.36 106.26,235.36 127.79,235.36 149.32,235.36 213.91,237.94 235.44,241.38 256.97,249.11 278.5,260.29" fill="none" stroke="#222" stroke-width="0.8"/>
<circle cx="63.2" cy="401.83" r="2.6" fill="#000"/>
<circle cx="84.73" cy="400.39" r="2.6" fill="#000"/>
<circle cx="106.26" cy="394.89" r="2.6" fill="#000"/>
<circle cx="127.79" cy="388.7" r="2.6" fill="#000"/>
<circle cx="149.32" cy="380.45" r="2.6" fill="#000"/>
<circle cx="213.91" cy="355.01" r="2.6" fill="#000"/>
<circle cx="235.44" cy="315.12" r="2.6" fill="#000"/>
<circle cx="256.97" cy="326.13" r="2.6" fill="#000"/>
<circle cx="278.5" cy="342.97" r="2.6" fill="#000"/>
<rect x="60.3" y="232.76" width="5.8" height="5.2" fill="#000"/>
<rect x="81.83" y="232.76" width="5.8" height="5.2" fill="#000"/>
<rect x="103.36" y="232.76" width="5.8" height="5.2" fill="#000"/>
<rect x="124.89" y="232.76" width="5.8" height="5.2" fill="#000"/>
<rect x="146.42" y="232.76" width="5.8" height="5.2" fill="#000"/>
<rect x="211.01" y="235.34" width="5.8" height="5.2" fill="#000"/>
<rect x="232.54" y="238.78" width="5.8" height="5.2" fill="#000"/>
<rect x="254.07" y="246.51" width="5.8" height="5.2" fill="#000"/>
<rect x="275.6" y="257.69" width="5.8" height="5.2" fill="#000"/>
<text transform="translate(-0.4,233.8) scale(1,1.1)" class="pl">C</text>
<text transform="translate(32.1,314.35) rotate(-90)" class="al" text-anchor="middle">Total cell concentration (10<tspan class="sup" dy="-3.9">6</tspan><tspan dy="3.9"> cells/mL)</tspan></text>
<text transform="translate(312.2,314.95) rotate(90)" class="al xl" text-anchor="middle">Viability (%)</text>
<text x="171.5" y="432.7" class="al xl" text-anchor="middle">Time post-inoculation (d)</text>
<text transform="translate(327.6,235.6) scale(1.02,1.1)" class="pl">D</text>
<text x="434.2" y="253.4" class="dt" text-anchor="middle" textLength="102" lengthAdjust="spacingAndGlyphs">EX-CELL medium</text>
<rect x="383.2" y="254.1" width="102" height="0.9" fill="#333"/>
<text x="595.5" y="253.8" class="dt" text-anchor="middle" textLength="72.3" lengthAdjust="spacingAndGlyphs">L15 medium</text>
<rect x="559.4" y="254.6" width="72.3" height="0.9" fill="#333"/>
<defs><clipPath id="c1"><rect x="350.6" y="268.2" width="162.4" height="127.6"/></clipPath><clipPath id="c2"><rect x="522" y="268.2" width="163" height="129.8"/></clipPath>
<radialGradient id="a1" cx="0.05" cy="0.05" r="0.6"><stop offset="0" stop-color="#9d8489" stop-opacity="0.9"/><stop offset="1" stop-color="#9d8489" stop-opacity="0"/></radialGradient>
<radialGradient id="a2" cx="0.05" cy="0.95" r="0.65"><stop offset="0" stop-color="#9c757d" stop-opacity="0.9"/><stop offset="1" stop-color="#9c757d" stop-opacity="0"/></radialGradient>
<radialGradient id="a3" cx="0.55" cy="0.55" r="0.55"><stop offset="0" stop-color="#a8867e" stop-opacity="0.9"/><stop offset="1" stop-color="#a8867e" stop-opacity="0"/></radialGradient>
<radialGradient id="a4" cx="0.95" cy="0.1" r="0.45"><stop offset="0" stop-color="#998079" stop-opacity="0.8"/><stop offset="1" stop-color="#998079" stop-opacity="0"/></radialGradient>
<radialGradient id="a5" cx="0.92" cy="0.92" r="0.45"><stop offset="0" stop-color="#997c78" stop-opacity="0.85"/><stop offset="1" stop-color="#997c78" stop-opacity="0"/></radialGradient>
<radialGradient id="b1" cx="0.5" cy="0.1" r="0.45"><stop offset="0" stop-color="#9e8f8f" stop-opacity="0.9"/><stop offset="1" stop-color="#9e8f8f" stop-opacity="0"/></radialGradient>
<radialGradient id="b2" cx="0.0" cy="0.5" r="0.5"><stop offset="0" stop-color="#958596" stop-opacity="0.9"/><stop offset="1" stop-color="#958596" stop-opacity="0"/></radialGradient>
<radialGradient id="b3" cx="0.15" cy="1.0" r="0.5"><stop offset="0" stop-color="#8f7e8e" stop-opacity="0.8"/><stop offset="1" stop-color="#8f7e8e" stop-opacity="0"/></radialGradient>
<radialGradient id="b4" cx="0.0" cy="0.0" r="0.35"><stop offset="0" stop-color="#8f8595" stop-opacity="0.8"/><stop offset="1" stop-color="#8f8595" stop-opacity="0"/></radialGradient>
<radialGradient id="b5" cx="0.8" cy="0.85" r="0.35"><stop offset="0" stop-color="#978991" stop-opacity="0.6"/><stop offset="1" stop-color="#978991" stop-opacity="0"/></radialGradient>
<radialGradient id="b6" cx="0.5" cy="0.35" r="0.3"><stop offset="0" stop-color="#9c8c87" stop-opacity="0.8"/><stop offset="1" stop-color="#9c8c87" stop-opacity="0"/></radialGradient>
</defs>
<g clip-path="url(#c1)">
<rect x="350.6" y="268.2" width="162.4" height="127.6" fill="#a38581"/>
<rect x="350.6" y="268.2" width="162.4" height="127.6" fill="url(#a1)"/>
<rect x="350.6" y="268.2" width="162.4" height="127.6" fill="url(#a2)"/>
<rect x="350.6" y="268.2" width="162.4" height="127.6" fill="url(#a3)"/>
<rect x="350.6" y="268.2" width="162.4" height="127.6" fill="url(#a4)"/>
<rect x="350.6" y="268.2" width="162.4" height="127.6" fill="url(#a5)"/>
<rect x="408" y="268.2" width="10" height="14" fill="#8f7b80" fill-opacity="0.35" filter="url(#bl)"/>
<g filter="url(#bl0)">
<circle cx="368.7" cy="276.8" r="3.4" fill="#c4ab9f" fill-opacity="0.3"/>
<circle cx="368.7" cy="276.8" r="2.8" fill="#b89e92" fill-opacity="0.45" stroke="#6f5a58" stroke-opacity="0.5" stroke-width="0.7"/>
<circle cx="368.0" cy="276.24" r="1.26" fill="#cab3a6" fill-opacity="0.45"/>
<circle cx="368.1" cy="293.8" r="3.0" fill="#c4ab9f" fill-opacity="0.3"/>
<circle cx="368.1" cy="293.8" r="2.4" fill="#b89e92" fill-opacity="0.45" stroke="#6f5a58" stroke-opacity="0.5" stroke-width="0.7"/>
<circle cx="367.5" cy="293.32" r="1.08" fill="#cab3a6" fill-opacity="0.45"/>
<circle cx="405.2" cy="287.6" r="3.4" fill="#c4ab9f" fill-opacity="0.3"/>
<circle cx="405.2" cy="287.6" r="2.8" fill="#b89e92" fill-opacity="0.45" stroke="#6f5a58" stroke-opacity="0.5" stroke-width="0.7"/>
<circle cx="404.5" cy="287.04" r="1.26" fill="#cab3a6" fill-opacity="0.45"/>
<circle cx="410.8" cy="285.1" r="3.4" fill="#c4ab9f" fill-opacity="0.3"/>
<circle cx="410.8" cy="285.1" r="2.8" fill="#b89e92" fill-opacity="0.45" stroke="#6f5a58" stroke-opacity="0.5" stroke-width="0.7"/>
<circle cx="410.1" cy="284.54" r="1.26" fill="#cab3a6" fill-opacity="0.45"/>
<circle cx="431.5" cy="303.7" r="3.5" fill="#c4ab9f" fill-opacity="0.3"/>
<circle cx="431.5" cy="303.7" r="2.9" fill="#b89e92" fill-opacity="0.45" stroke="#6f5a58" stroke-opacity="0.5" stroke-width="0.7"/>
<circle cx="430.775" cy="303.12" r="1.305" fill="#cab3a6" fill-opacity="0.45"/>
<circle cx="434" cy="300.6" r="3.2" fill="#c4ab9f" fill-opacity="0.3"/>
<circle cx="434" cy="300.6" r="2.6" fill="#b89e92" fill-opacity="0.45" stroke="#6f5a58" stroke-opacity="0.5" stroke-width="0.7"/>
<circle cx="433.35" cy="300.08000000000004" r="1.1700000000000002" fill="#cab3a6" fill-opacity="0.45"/>
<circle cx="426.9" cy="322.2" r="3.9" fill="#c4ab9f" fill-opacity="0.3"/>
<circle cx="426.9" cy="322.2" r="3.3" fill="#b89e92" fill-opacity="0.45" stroke="#6f5a58" stroke-opacity="0.5" stroke-width="0.7"/>
<circle cx="426.075" cy="321.53999999999996" r="1.4849999999999999" fill="#cab3a6" fill-opacity="0.45"/>
<circle cx="499.6" cy="305.8" r="3.6" fill="#c4ab9f" fill-opacity="0.3"/>
<circle cx="499.6" cy="305.8" r="3" fill="#b89e92" fill-opacity="0.45" stroke="#6f5a58" stroke-opacity="0.5" stroke-width="0.7"/>
<circle cx="498.85" cy="305.2" r="1.35" fill="#cab3a6" fill-opacity="0.45"/>
<circle cx="474.9" cy="313.9" r="3.6" fill="#c4ab9f" fill-opacity="0.3"/>
<circle cx="474.9" cy="313.9" r="3" fill="#b89e92" fill-opacity="0.45" stroke="#6f5a58" stroke-opacity="0.5" stroke-width="0.7"/>
<circle cx="474.15" cy="313.29999999999995" r="1.35" fill="#cab3a6" fill-opacity="0.45"/>
<circle cx="474.9" cy="322.2" r="3.1" fill="#c4ab9f" fill-opacity="0.3"/>
<circle cx="474.9" cy="322.2" r="2.5" fill="#b89e92" fill-opacity="0.45" stroke="#6f5a58" stroke-opacity="0.5" stroke-width="0.7"/>
<circle cx="474.275" cy="321.7" r="1.125" fill="#cab3a6" fill-opacity="0.45"/>
<circle cx="370.3" cy="328.4" r="4.8999999999999995" fill="#c4ab9f" fill-opacity="0.3"/>
<circle cx="370.3" cy="328.4" r="4.3" fill="#b89e92" fill-opacity="0.45" stroke="#6f5a58" stroke-opacity="0.5" stroke-width="0.7"/>
<circle cx="369.225" cy="327.53999999999996" r="1.935" fill="#cab3a6" fill-opacity="0.45"/>
<circle cx="361.9" cy="337.7" r="3.6" fill="#c4ab9f" fill-opacity="0.3"/>
<circle cx="361.9" cy="337.7" r="3" fill="#b89e92" fill-opacity="0.45" stroke="#6f5a58" stroke-opacity="0.5" stroke-width="0.7"/>
<circle cx="361.15" cy="337.09999999999997" r="1.35" fill="#cab3a6" fill-opacity="0.45"/>
<circle cx="367.2" cy="336.2" r="3.4" fill="#c4ab9f" fill-opacity="0.3"/>
<circle cx="367.2" cy="336.2" r="2.8" fill="#b89e92" fill-opacity="0.45" stroke="#6f5a58" stroke-opacity="0.5" stroke-width="0.7"/>
<circle cx="366.5" cy="335.64" r="1.26" fill="#cab3a6" fill-opacity="0.45"/>
<circle cx="372.8" cy="345.4" r="3.4" fill="#c4ab9f" fill-opacity="0.3"/>
<circle cx="372.8" cy="345.4" r="2.8" fill="#b89e92" fill-opacity="0.45" stroke="#6f5a58" stroke-opacity="0.5" stroke-width="0.7"/>
<circle cx="372.1" cy="344.84" r="1.26" fill="#cab3a6" fill-opacity="0.45"/>
<circle cx="374.3" cy="354.1" r="3.6" fill="#c4ab9f" fill-opacity="0.3"/>
<circle cx="374.3" cy="354.1" r="3" fill="#b89e92" fill-opacity="0.45" stroke="#6f5a58" stroke-opacity="0.5" stroke-width="0.7"/>
<circle cx="373.55" cy="353.5" r="1.35" fill="#cab3a6" fill-opacity="0.45"/>
<circle cx="456.3" cy="339.3" r="2.4" fill="#c4ab9f" fill-opacity="0.3"/>
<circle cx="456.3" cy="339.3" r="1.8" fill="#b89e92" fill-opacity="0.45" stroke="#6f5a58" stroke-opacity="0.5" stroke-width="0.7"/>
<circle cx="455.85" cy="338.94" r="0.81" fill="#cab3a6" fill-opacity="0.45"/>
<circle cx="461.9" cy="348.5" r="3.4" fill="#c4ab9f" fill-opacity="0.3"/>
<circle cx="461.9" cy="348.5" r="2.8" fill="#b89e92" fill-opacity="0.45" stroke="#6f5a58" stroke-opacity="0.5" stroke-width="0.7"/>
<circle cx="461.2" cy="347.94" r="1.26" fill="#cab3a6" fill-opacity="0.45"/>
<circle cx="473.3" cy="343.9" r="3.4" fill="#c4ab9f" fill-opacity="0.3"/>
<circle cx="473.3" cy="343.9" r="2.8" fill="#b89e92" fill-opacity="0.45" stroke="#6f5a58" stroke-opacity="0.5" stroke-width="0.7"/>
<circle cx="472.6" cy="343.34" r="1.26" fill="#cab3a6" fill-opacity="0.45"/>
<circle cx="470.5" cy="338.5" r="3.1" fill="#c4ab9f" fill-opacity="0.3"/>
<circle cx="470.5" cy="338.5" r="2.5" fill="#b89e92" fill-opacity="0.45" stroke="#6f5a58" stroke-opacity="0.5" stroke-width="0.7"/>
<circle cx="469.875" cy="338.0" r="1.125" fill="#cab3a6" fill-opacity="0.45"/>
<circle cx="409.9" cy="384.1" r="4.1" fill="#c4ab9f" fill-opacity="0.3"/>
<circle cx="409.9" cy="384.1" r="3.5" fill="#b89e92" fill-opacity="0.45" stroke="#6f5a58" stroke-opacity="0.5" stroke-width="0.7"/>
<circle cx="409.025" cy="383.40000000000003" r="1.575" fill="#cab3a6" fill-opacity="0.45"/>
<circle cx="435.6" cy="387.2" r="3.4" fill="#c4ab9f" fill-opacity="0.3"/>
<circle cx="435.6" cy="387.2" r="2.8" fill="#b89e92" fill-opacity="0.45" stroke="#6f5a58" stroke-opacity="0.5" stroke-width="0.7"/>
<circle cx="434.90000000000003" cy="386.64" r="1.26" fill="#cab3a6" fill-opacity="0.45"/>
<circle cx="459.4" cy="378.9" r="3.6" fill="#c4ab9f" fill-opacity="0.3"/>
<circle cx="459.4" cy="378.9" r="3" fill="#b89e92" fill-opacity="0.45" stroke="#6f5a58" stroke-opacity="0.5" stroke-width="0.7"/>
<circle cx="458.65" cy="378.29999999999995" r="1.35" fill="#cab3a6" fill-opacity="0.45"/>
<circle cx="433" cy="395" r="3.1" fill="#c4ab9f" fill-opacity="0.3"/>
<circle cx="433" cy="395" r="2.5" fill="#b89e92" fill-opacity="0.45" stroke="#6f5a58" stroke-opacity="0.5" stroke-width="0.7"/>
<circle cx="432.375" cy="394.5" r="1.125" fill="#cab3a6" fill-opacity="0.45"/>
<circle cx="478" cy="334" r="3.6" fill="#c4ab9f" fill-opacity="0.3"/>
<circle cx="478" cy="334" r="3" fill="#b89e92" fill-opacity="0.45" stroke="#6f5a58" stroke-opacity="0.5" stroke-width="0.7"/>
<circle cx="477.25" cy="333.4" r="1.35" fill="#cab3a6" fill-opacity="0.45"/>
<circle cx="481" cy="338" r="3.6" fill="#c4ab9f" fill-opacity="0.3"/>
<circle cx="481" cy="338" r="3" fill="#b89e92" fill-opacity="0.45" stroke="#6f5a58" stroke-opacity="0.5" stroke-width="0.7"/>
<circle cx="480.25" cy="337.4" r="1.35" fill="#cab3a6" fill-opacity="0.45"/>
<circle cx="485" cy="333" r="3.6" fill="#c4ab9f" fill-opacity="0.3"/>
<circle cx="485" cy="333" r="3" fill="#b89e92" fill-opacity="0.45" stroke="#6f5a58" stroke-opacity="0.5" stroke-width="0.7"/>
<circle cx="484.25" cy="332.4" r="1.35" fill="#cab3a6" fill-opacity="0.45"/>
<circle cx="488" cy="337" r="3.6" fill="#c4ab9f" fill-opacity="0.3"/>
<circle cx="488" cy="337" r="3" fill="#b89e92" fill-opacity="0.45" stroke="#6f5a58" stroke-opacity="0.5" stroke-width="0.7"/>
<circle cx="487.25" cy="336.4" r="1.35" fill="#cab3a6" fill-opacity="0.45"/>
<circle cx="483" cy="329" r="3.6" fill="#c4ab9f" fill-opacity="0.3"/>
<circle cx="483" cy="329" r="3" fill="#b89e92" fill-opacity="0.45" stroke="#6f5a58" stroke-opacity="0.5" stroke-width="0.7"/>
<circle cx="482.25" cy="328.4" r="1.35" fill="#cab3a6" fill-opacity="0.45"/>
<circle cx="479" cy="328" r="3.1" fill="#c4ab9f" fill-opacity="0.3"/>
<circle cx="479" cy="328" r="2.5" fill="#b89e92" fill-opacity="0.45" stroke="#6f5a58" stroke-opacity="0.5" stroke-width="0.7"/>
<circle cx="478.375" cy="327.5" r="1.125" fill="#cab3a6" fill-opacity="0.45"/>
<circle cx="486" cy="341" r="3.6" fill="#c4ab9f" fill-opacity="0.3"/>
<circle cx="486" cy="341" r="3" fill="#b89e92" fill-opacity="0.45" stroke="#6f5a58" stroke-opacity="0.5" stroke-width="0.7"/>
<circle cx="485.25" cy="340.4" r="1.35" fill="#cab3a6" fill-opacity="0.45"/>
<circle cx="490" cy="332" r="3.1" fill="#c4ab9f" fill-opacity="0.3"/>
<circle cx="490" cy="332" r="2.5" fill="#b89e92" fill-opacity="0.45" stroke="#6f5a58" stroke-opacity="0.5" stroke-width="0.7"/>
<circle cx="489.375" cy="331.5" r="1.125" fill="#cab3a6" fill-opacity="0.45"/>
<circle cx="482" cy="344" r="3.1" fill="#c4ab9f" fill-opacity="0.3"/>
<circle cx="482" cy="344" r="2.5" fill="#b89e92" fill-opacity="0.45" stroke="#6f5a58" stroke-opacity="0.5" stroke-width="0.7"/>
<circle cx="481.375" cy="343.5" r="1.125" fill="#cab3a6" fill-opacity="0.45"/>
<circle cx="476" cy="341" r="3.1" fill="#c4ab9f" fill-opacity="0.3"/>
<circle cx="476" cy="341" r="2.5" fill="#b89e92" fill-opacity="0.45" stroke="#6f5a58" stroke-opacity="0.5" stroke-width="0.7"/>
<circle cx="475.375" cy="340.5" r="1.125" fill="#cab3a6" fill-opacity="0.45"/>
<circle cx="489" cy="343" r="3.4" fill="#c4ab9f" fill-opacity="0.3"/>
<circle cx="489" cy="343" r="2.8" fill="#b89e92" fill-opacity="0.45" stroke="#6f5a58" stroke-opacity="0.5" stroke-width="0.7"/>
<circle cx="488.3" cy="342.44" r="1.26" fill="#cab3a6" fill-opacity="0.45"/>
</g>
</g>
<rect x="350.6" y="395.79999999999995" width="162.4" height="2.1" fill="#dedede"/>
<rect x="480.2" y="389" width="29.8" height="1" fill="#f4f0f0"/>
<text x="489.2" y="394.8" style="fill:#f0eaea;font-size:4.6px">50 µm</text>
<g clip-path="url(#c2)">
<rect x="522" y="268.2" width="163" height="129.8" fill="#978a8d"/>
<rect x="522" y="268.2" width="163" height="129.8" fill="url(#b1)"/>
<rect x="522" y="268.2" width="163" height="129.8" fill="url(#b2)"/>
<rect x="522" y="268.2" width="163" height="129.8" fill="url(#b3)"/>
<rect x="522" y="268.2" width="163" height="129.8" fill="url(#b4)"/>
<rect x="522" y="268.2" width="163" height="129.8" fill="url(#b5)"/>
<rect x="522" y="268.2" width="163" height="129.8" fill="url(#b6)"/>
<circle cx="540" cy="339.5" r="5" fill="#6e6672" fill-opacity="0.4" filter="url(#bl)"/>
<circle cx="557.8" cy="338" r="4" fill="#6e6672" fill-opacity="0.4" filter="url(#bl)"/>
<circle cx="662" cy="292" r="6" fill="#6e6672" fill-opacity="0.4" filter="url(#bl)"/>
<circle cx="654.6" cy="306.7" r="5" fill="#6e6672" fill-opacity="0.4" filter="url(#bl)"/>
<circle cx="641" cy="374" r="5" fill="#6e6672" fill-opacity="0.4" filter="url(#bl)"/>
<circle cx="677" cy="366" r="4" fill="#6e6672" fill-opacity="0.4" filter="url(#bl)"/>
<circle cx="600" cy="300" r="5" fill="#6e6672" fill-opacity="0.4" filter="url(#bl)"/>
<g filter="url(#bl0)">
<circle cx="524.6" cy="271.5" r="3" fill="#bcaeae" fill-opacity="0.4" stroke="#3a3240" stroke-opacity="0.75" stroke-width="0.75"/>
<circle cx="524.0" cy="271.05" r="1.35" fill="#d0c4c2" fill-opacity="0.4"/>
<circle cx="540.9" cy="272.8" r="2.5" fill="#bcaeae" fill-opacity="0.4" stroke="#3a3240" stroke-opacity="0.75" stroke-width="0.75"/>
<circle cx="540.4" cy="272.425" r="1.125" fill="#d0c4c2" fill-opacity="0.4"/>
<circle cx="564.5" cy="277.7" r="3" fill="#bcaeae" fill-opacity="0.4" stroke="#3a3240" stroke-opacity="0.75" stroke-width="0.75"/>
<circle cx="563.9" cy="277.25" r="1.35" fill="#d0c4c2" fill-opacity="0.4"/>
<circle cx="577.8" cy="272.8" r="3.5" fill="#bcaeae" fill-opacity="0.4" stroke="#3a3240" stroke-opacity="0.75" stroke-width="0.75"/>
<circle cx="577.0999999999999" cy="272.27500000000003" r="1.575" fill="#d0c4c2" fill-opacity="0.4"/>
<circle cx="636.1" cy="279.8" r="3" fill="#bcaeae" fill-opacity="0.4" stroke="#3a3240" stroke-opacity="0.75" stroke-width="0.75"/>
<circle cx="635.5" cy="279.35" r="1.35" fill="#d0c4c2" fill-opacity="0.4"/>
<circle cx="675.1" cy="272.8" r="3.5" fill="#bcaeae" fill-opacity="0.4" stroke="#3a3240" stroke-opacity="0.75" stroke-width="0.75"/>
<circle cx="674.4" cy="272.27500000000003" r="1.575" fill="#d0c4c2" fill-opacity="0.4"/>
<circle cx="644.4" cy="288.1" r="3.3" fill="#bcaeae" fill-opacity="0.4" stroke="#3a3240" stroke-opacity="0.75" stroke-width="0.75"/>
<circle cx="643.74" cy="287.605" r="1.4849999999999999" fill="#d0c4c2" fill-opacity="0.4"/>
<circle cx="679.1" cy="297.3" r="3" fill="#bcaeae" fill-opacity="0.4" stroke="#3a3240" stroke-opacity="0.75" stroke-width="0.75"/>
<circle cx="678.5" cy="296.85" r="1.35" fill="#d0c4c2" fill-opacity="0.4"/>
<circle cx="661.9" cy="306.9" r="3.8" fill="#bcaeae" fill-opacity="0.4" stroke="#3a3240" stroke-opacity="0.75" stroke-width="0.75"/>
<circle cx="661.14" cy="306.33" r="1.71" fill="#d0c4c2" fill-opacity="0.4"/>
<circle cx="578.4" cy="296.1" r="3" fill="#bcaeae" fill-opacity="0.4" stroke="#3a3240" stroke-opacity="0.75" stroke-width="0.75"/>
<circle cx="577.8" cy="295.65000000000003" r="1.35" fill="#d0c4c2" fill-opacity="0.4"/>
<circle cx="591.3" cy="299.8" r="3" fill="#bcaeae" fill-opacity="0.4" stroke="#3a3240" stroke-opacity="0.75" stroke-width="0.75"/>
<circle cx="590.6999999999999" cy="299.35" r="1.35" fill="#d0c4c2" fill-opacity="0.4"/>
<circle cx="555.3" cy="309.9" r="3" fill="#bcaeae" fill-opacity="0.4" stroke="#3a3240" stroke-opacity="0.75" stroke-width="0.75"/>
<circle cx="554.6999999999999" cy="309.45" r="1.35" fill="#d0c4c2" fill-opacity="0.4"/>
<circle cx="566.7" cy="317.6" r="4.5" fill="#bcaeae" fill-opacity="0.4" stroke="#3a3240" stroke-opacity="0.75" stroke-width="0.75"/>
<circle cx="565.8000000000001" cy="316.925" r="2.025" fill="#d0c4c2" fill-opacity="0.4"/>
<circle cx="611.5" cy="325.9" r="3.3" fill="#bcaeae" fill-opacity="0.4" stroke="#3a3240" stroke-opacity="0.75" stroke-width="0.75"/>
<circle cx="610.84" cy="325.405" r="1.4849999999999999" fill="#d0c4c2" fill-opacity="0.4"/>
<circle cx="628.1" cy="348.3" r="3.3" fill="#bcaeae" fill-opacity="0.4" stroke="#3a3240" stroke-opacity="0.75" stroke-width="0.75"/>
<circle cx="627.44" cy="347.805" r="1.4849999999999999" fill="#d0c4c2" fill-opacity="0.4"/>
<circle cx="601.4" cy="353.6" r="3" fill="#bcaeae" fill-opacity="0.4" stroke="#3a3240" stroke-opacity="0.75" stroke-width="0.75"/>
<circle cx="600.8" cy="353.15000000000003" r="1.35" fill="#d0c4c2" fill-opacity="0.4"/>
<circle cx="626" cy="364.9" r="3.8" fill="#bcaeae" fill-opacity="0.4" stroke="#3a3240" stroke-opacity="0.75" stroke-width="0.75"/>
<circle cx="625.24" cy="364.33" r="1.71" fill="#d0c4c2" fill-opacity="0.4"/>
<circle cx="553.2" cy="372" r="3.3" fill="#bcaeae" fill-opacity="0.4" stroke="#3a3240" stroke-opacity="0.75" stroke-width="0.75"/>
<circle cx="552.5400000000001" cy="371.505" r="1.4849999999999999" fill="#d0c4c2" fill-opacity="0.4"/>
<circle cx="621.4" cy="380.3" r="3.2" fill="#bcaeae" fill-opacity="0.4" stroke="#3a3240" stroke-opacity="0.75" stroke-width="0.75"/>
<circle cx="620.76" cy="379.82" r="1.4400000000000002" fill="#d0c4c2" fill-opacity="0.4"/>
<circle cx="594.7" cy="383.7" r="3" fill="#bcaeae" fill-opacity="0.4" stroke="#3a3240" stroke-opacity="0.75" stroke-width="0.75"/>
<circle cx="594.1" cy="383.25" r="1.35" fill="#d0c4c2" fill-opacity="0.4"/>
<circle cx="525.5" cy="389.5" r="3" fill="#bcaeae" fill-opacity="0.4" stroke="#3a3240" stroke-opacity="0.75" stroke-width="0.75"/>
<circle cx="524.9" cy="389.05" r="1.35" fill="#d0c4c2" fill-opacity="0.4"/>
<circle cx="681.3" cy="382.1" r="3" fill="#bcaeae" fill-opacity="0.4" stroke="#3a3240" stroke-opacity="0.75" stroke-width="0.75"/>
<circle cx="680.6999999999999" cy="381.65000000000003" r="1.35" fill="#d0c4c2" fill-opacity="0.4"/>
<circle cx="630" cy="395" r="2.5" fill="#bcaeae" fill-opacity="0.4" stroke="#3a3240" stroke-opacity="0.75" stroke-width="0.75"/>
<circle cx="629.5" cy="394.625" r="1.125" fill="#d0c4c2" fill-opacity="0.4"/>
</g>
<circle cx="617.7" cy="276.8" r="3.5" fill="#c9bfc6" fill-opacity="0.6" filter="url(#bl1)"/>
<circle cx="641.3" cy="271.5" r="3.5" fill="#c9bfc6" fill-opacity="0.6" filter="url(#bl1)"/>
<circle cx="587.6" cy="325.9" r="2.8" fill="#c9bfc6" fill-opacity="0.6" filter="url(#bl1)"/>
<circle cx="594.3" cy="349.6" r="2.8" fill="#c9bfc6" fill-opacity="0.6" filter="url(#bl1)"/>
<circle cx="626" cy="277.7" r="2.8" fill="#e8e2e6" filter="url(#bl1)"/>
</g>
<rect x="652" y="389" width="29.8" height="1" fill="#f4f0f2"/>
<text x="661" y="394.6" style="fill:#f0eaee;font-size:4.6px">50 µm</text>
</svg>
</body></html>
